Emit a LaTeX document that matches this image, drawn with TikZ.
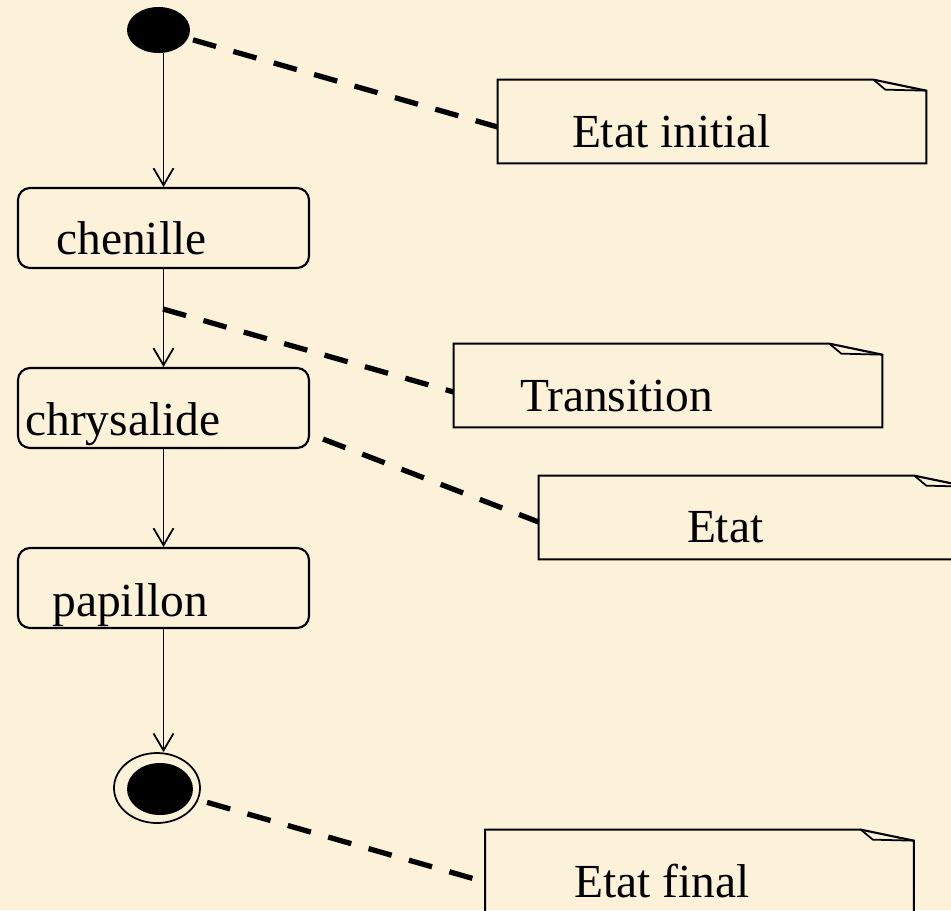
\documentclass[tikz,border=0pt]{standalone}
\usepackage{xcolor}
\usepackage{fontspec}
\setmainfont{Liberation Serif}
\usepackage{tikz}
\usetikzlibrary{arrows.meta,shapes.geometric}
\definecolor{parchment}{RGB}{252,242,217}
\newcommand{\foldnote}[1]{%
  \draw[line width=1.2pt] (#1.south west) -- (#1.north west) -- ([xshift=-1.06cm]#1.north east) -- ([yshift=-0.22cm]#1.north east) -- (#1.south east) -- cycle;
  \draw[line width=1pt, line join=round] ([xshift=-1.06cm]#1.north east) -- ([shift={(-0.82,-0.2)}]#1.north east) -- ([yshift=-0.22cm]#1.north east);
}

\begin{document}
\begin{tikzpicture}[
  statebox/.style={draw, line width=1.2pt, rounded corners=0.24cm, minimum width=5.82cm, minimum height=1.6cm, inner sep=0},
  initstate/.style={ellipse, fill=black, minimum width=1.26cm, minimum height=0.92cm, inner sep=0},
  finalstate/.style={ellipse, draw, line width=1pt, minimum width=1.72cm, minimum height=1.4cm, inner sep=0},
  notebox/.style={minimum width=8.56cm, minimum height=1.66cm, inner sep=0},
  txt/.style={anchor=base west, inner sep=0, font=\fontsize{27}{32}\selectfont},
  flow/.style={line width=1pt, -{Straight Barb[length=3.4mm,width=4mm]}},
  link/.style={line width=3pt, dash pattern=on 4.8mm off 3.6mm}]
\useasboundingbox (0,0) rectangle (19.02,-18.2);
\fill[parchment] (0,0) rectangle (19.02,-18.2);
\clip (0,0) rectangle (19.02,-18.2);

\node[initstate] (init) at (3.17,-0.6) {};
\node[statebox] (chenille) at (3.27,-4.56) {};
\node[statebox] (chrysalide) at (3.27,-8.16) {};
\node[statebox] (papillon) at (3.27,-11.76) {};
\node[finalstate] (final) at (3.14,-15.76) {};
\fill ([shift={(0.06,-0.02)}]final.center) ellipse [x radius=0.66, y radius=0.52];

\node[txt] (chenilleTxt) at ([shift={(0.78,0.3)}]chenille.south west) {chenille};
\node[txt] (chrysalideTxt) at ([shift={(0.16,0.28)}]chrysalide.south west) {chrysalide};
\node[txt] (papillonTxt) at ([shift={(0.7,0.26)}]papillon.south west) {papillon};

\draw[flow] (chenille.north |- init.south) -- (chenille.north);
\draw[flow] (chenille) -- (chrysalide);
\draw[flow] (chrysalide) -- (papillon);
\draw[flow] (papillon.south) -- (papillon.south |- final.north);

\node[notebox] (noteInit) at (14.24,-2.43) {};
\node[notebox] (noteTrans) at (13.36,-7.71) {};
\node[notebox] (noteEtat) at (15.06,-10.35) {};
\node[notebox] (noteFinal) at (13.99,-17.43) {};
\foldnote{noteInit}
\foldnote{noteTrans}
\foldnote{noteEtat}
\foldnote{noteFinal}

\node[txt] (noteInitTxt) at ([shift={(1.48,-1.36)}]noteInit.north west) {Etat initial};
\node[txt] (noteTransTxt) at ([shift={(1.32,-1.36)}]noteTrans.north west) {Transition};
\node[txt] (noteEtatTxt) at ([shift={(2.96,-1.34)}]noteEtat.north west) {Etat};
\node[txt] (noteFinalTxt) at ([shift={(1.78,-1.36)}]noteFinal.north west) {Etat final};

\coordinate (transpt) at (3.26,-6.18);
\draw[link, shorten <=0.1cm] (init) -- ([yshift=-0.11cm]noteInit.west);
\draw[link] (transpt) -- ([yshift=-0.13cm]noteTrans.west);
\draw[link] ([shift={(0.26,0.2)}]chrysalide.south east) -- ([yshift=-0.09cm]noteEtat.west);
\draw[link, shorten <=0.18cm] (final) -- ([yshift=-0.21cm]noteFinal.west);
\end{tikzpicture}
\end{document}
